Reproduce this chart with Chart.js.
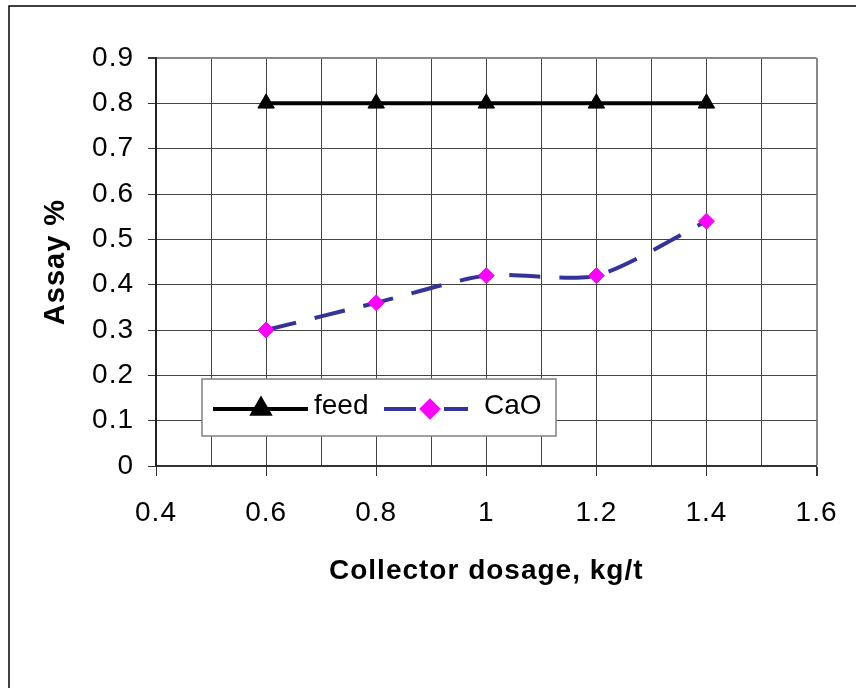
<!DOCTYPE html>
<html>
<head>
<meta charset="utf-8">
<script src="https://cdn.jsdelivr.net/npm/chart.js@4.4.1/dist/chart.umd.min.js"></script>
<style>
  html, body { margin: 0; padding: 0; background: #ffffff; }
  #wrap { width: 856px; height: 688px; position: relative; }
  canvas { display: block; }
</style>
</head>
<body>
<div id="wrap"><canvas id="c" width="856" height="688"></canvas></div>
<script>
// ---- data ----
const dosage = [0.6, 0.8, 1.0, 1.2, 1.4];
const feedAssay = [0.8, 0.8, 0.8, 0.8, 0.8];
const caoAssay = [0.30, 0.36, 0.42, 0.42, 0.54];
const seriesNames = ['feed', 'CaO'];
const xTickLabels = ['0.4', '0.6', '0.8', '1', '1.2', '1.4', '1.6'];
const yTickLabels = ['0', '0.1', '0.2', '0.3', '0.4', '0.5', '0.6', '0.7', '0.8', '0.9'];
const xTitle = 'Collector dosage, kg/t';
const yTitle = 'Assay %';

const FONT = "'Liberation Sans', Arial, sans-serif";

function pts(xs, ys) { return xs.map((x, i) => ({ x: x, y: ys[i] })); }

const framePlugin = {
  id: 'frame',
  beforeDraw(chart) {
    const ctx = chart.ctx;
    ctx.save();
    ctx.fillStyle = '#ffffff';
    ctx.fillRect(0, 0, chart.width, chart.height);
    ctx.strokeStyle = '#000000';
    ctx.lineWidth = 1.5;
    ctx.strokeRect(9, 6, chart.width + 20, chart.height + 20);
    ctx.restore();
    ctx.letterSpacing = '1px';
  },
  afterDraw(chart) {
    chart.ctx.letterSpacing = '0px';
  }
};

const legendPlugin = {
  id: 'boxLegend',
  afterDatasetsDraw(chart) {
    const ctx = chart.ctx;
    const a = chart.chartArea;
    const bx = a.left + 46, by = a.top + 321, bw = 354, bh = 57;
    ctx.save();
    ctx.fillStyle = '#ffffff';
    ctx.fillRect(bx, by, bw, bh);
    ctx.strokeStyle = '#808080';
    ctx.lineWidth = 1.5;
    ctx.strokeRect(bx, by, bw, bh);
    const cy = by + 30;
    const ds = chart.data.datasets;
    // feed sample
    ctx.strokeStyle = ds[0].borderColor;
    ctx.lineWidth = ds[0].borderWidth;
    ctx.setLineDash([]);
    ctx.beginPath(); ctx.moveTo(bx + 11, cy); ctx.lineTo(bx + 106, cy); ctx.stroke();
    ctx.fillStyle = ds[0].pointBackgroundColor;
    ctx.strokeStyle = ds[0].pointBorderColor;
    Chart.helpers.drawPoint(ctx, { pointStyle: ds[0].pointStyle, radius: ds[0].pointRadius, rotation: 0, borderWidth: 1 }, bx + 59, cy);
    // CaO sample
    ctx.strokeStyle = ds[1].borderColor;
    ctx.lineWidth = ds[1].borderWidth;
    ctx.beginPath(); ctx.moveTo(bx + 182, cy); ctx.lineTo(bx + 214, cy); ctx.stroke();
    ctx.beginPath(); ctx.moveTo(bx + 242, cy); ctx.lineTo(bx + 266, cy); ctx.stroke();
    ctx.fillStyle = ds[1].pointBackgroundColor;
    ctx.strokeStyle = ds[1].pointBorderColor;
    Chart.helpers.drawPoint(ctx, { pointStyle: ds[1].pointStyle, radius: ds[1].pointRadius, rotation: 0, borderWidth: 1 }, bx + 228, cy);
    // labels
    ctx.fillStyle = '#000000';
    ctx.font = '28px ' + FONT;
    ctx.letterSpacing = '0px';
    ctx.textBaseline = 'middle';
    ctx.textAlign = 'left';
    ctx.fillText(ds[0].label, bx + 112, cy - 3);
    ctx.fillText(ds[1].label, bx + 282, cy - 3);
    ctx.restore();
  }
};

new Chart(document.getElementById('c'), {
  type: 'scatter',
  data: {
    datasets: [
      {
        label: seriesNames[0],
        data: pts(dosage, feedAssay),
        showLine: true,
        borderColor: '#000000',
        borderWidth: 4,
        pointStyle: 'triangle',
        pointRadius: 9.5,
        pointBackgroundColor: '#000000',
        pointBorderColor: '#000000',
        pointBorderWidth: 1,
        tension: 0
      },
      {
        label: seriesNames[1],
        data: pts(dosage, caoAssay),
        showLine: true,
        borderColor: '#333399',
        borderWidth: 4,
        borderDash: [31, 19],
        pointStyle: 'rectRot',
        pointRadius: 8,
        pointBackgroundColor: '#FF00FF',
        pointBorderColor: '#FF00FF',
        pointBorderWidth: 1,
        tension: 0.25
      }
    ]
  },
  options: {
    responsive: false,
    animation: false,
    events: [],
    layout: { padding: { left: 0, top: 58, right: 37, bottom: 0 } },
    plugins: { legend: { display: false }, tooltip: { enabled: false } },
    scales: {
      x: {
        type: 'linear',
        min: 0.4, max: 1.6,
        afterFit(s) { s.height = 688 - 466; },
        ticks: {
          stepSize: 0.1,
          autoSkip: false,
          maxRotation: 0,
          padding: 20,
          color: '#000000',
          font: { family: FONT, size: 28 },
          callback(v) {
            const k = Math.round(v * 10);
            return k % 2 === 0 ? xTickLabels[(k - 4) / 2] : '';
          }
        },
        grid: {
          color(c) { return Math.round(c.tick.value * 10) === 16 ? '#888888' : '#444444'; },
          lineWidth(c) { return Math.round(c.tick.value * 10) === 16 ? 2 : 1; },
          tickColor(c) { return Math.round(c.tick.value * 10) % 2 === 0 ? '#333333' : 'rgba(0,0,0,0)'; },
          tickLength: 10
        },
        border: { color: '#333333', width: 2 },
        title: {
          display: true,
          text: xTitle,
          color: '#000000',
          font: { family: FONT, size: 28, weight: 'bold' },
          padding: { top: 0, bottom: 100 }
        }
      },
      y: {
        type: 'linear',
        min: 0, max: 0.9,
        afterFit(s) { s.width = 156; },
        ticks: {
          stepSize: 0.1,
          autoSkip: false,
          padding: 14,
          color: '#000000',
          font: { family: FONT, size: 28 },
          callback(v) { return yTickLabels[Math.round(v * 10)]; }
        },
        grid: {
          color(c) { return Math.round(c.tick.value * 10) === 9 ? '#888888' : '#444444'; },
          lineWidth(c) { return Math.round(c.tick.value * 10) === 9 ? 2 : 1; },
          tickColor: '#333333',
          tickLength: 8
        },
        border: { color: '#222222', width: 2 },
        title: {
          display: true,
          text: yTitle,
          color: '#000000',
          font: { family: FONT, size: 29, weight: 'bold' },
          padding: { top: 39, bottom: 0 }
        }
      }
    }
  },
  plugins: [framePlugin, legendPlugin]
});
</script>
</body>
</html>
